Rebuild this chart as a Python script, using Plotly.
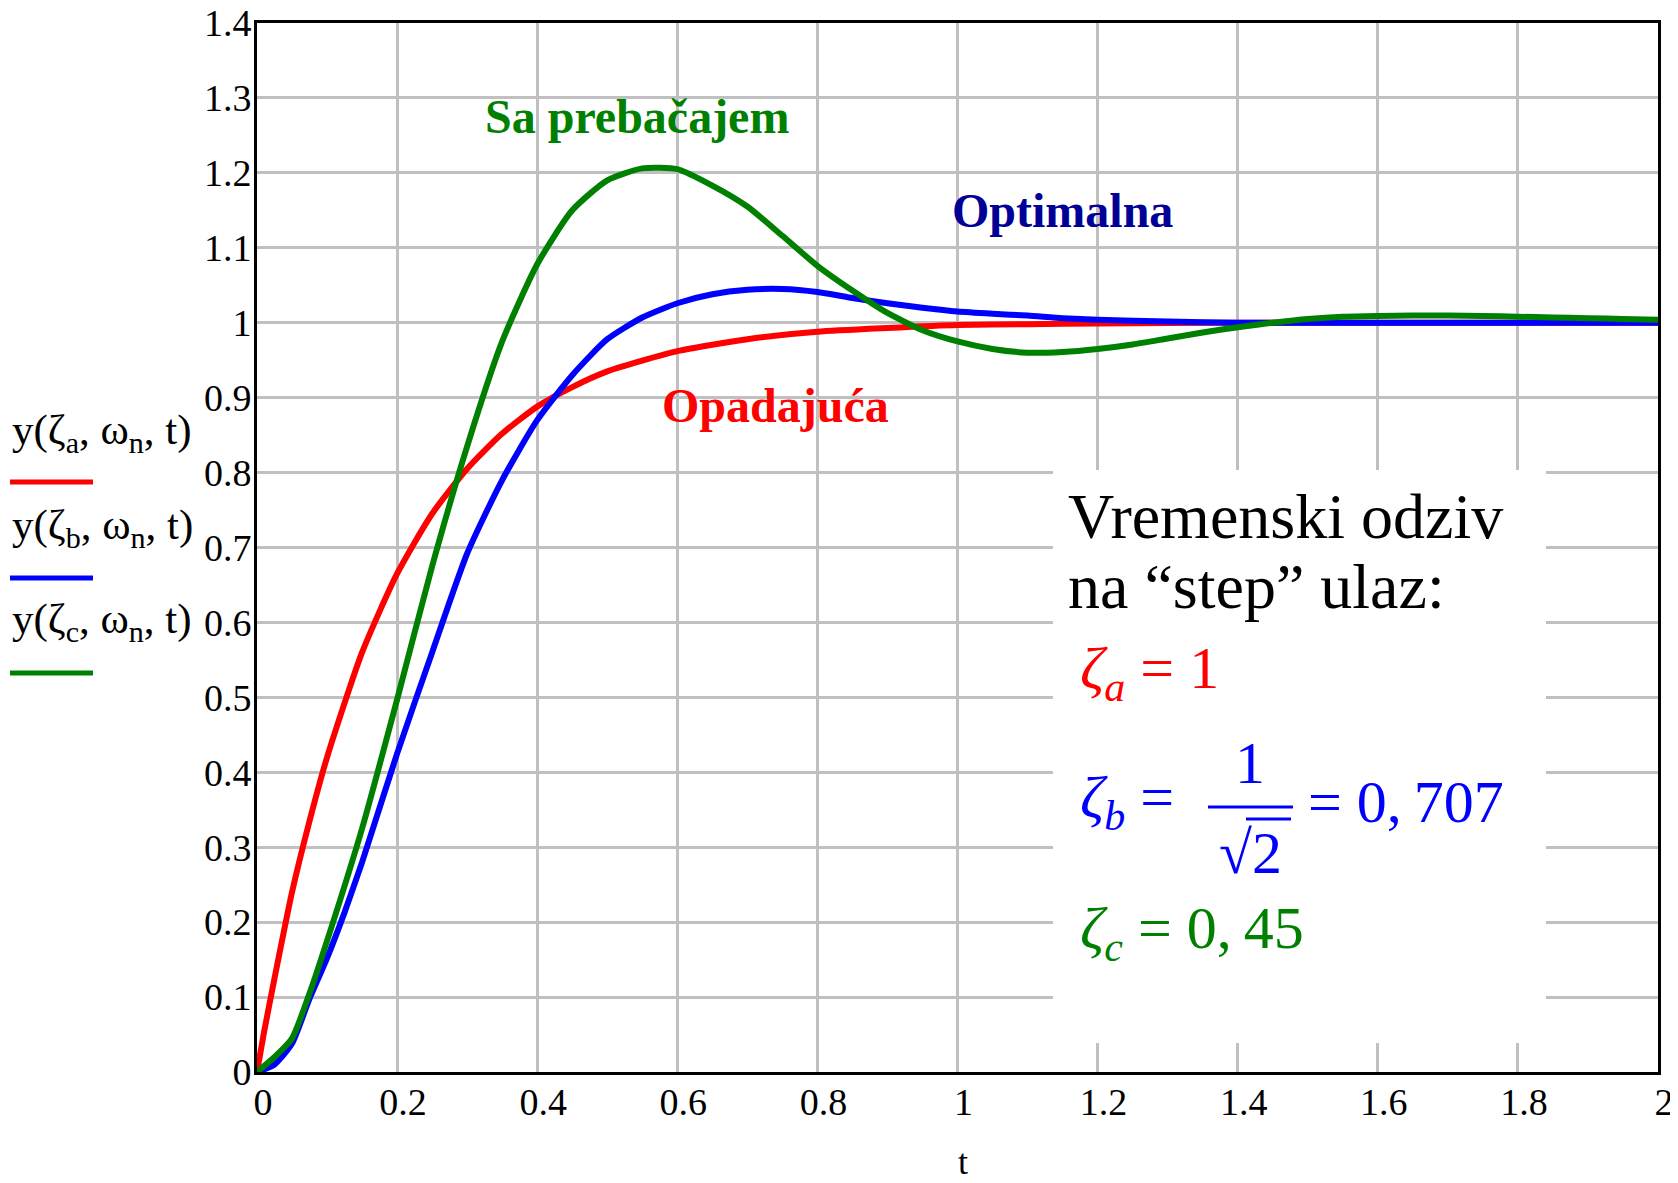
import plotly.graph_objects as go

# ---------------- data ----------------
t_a = [0, 0.01, 0.025, 0.05, 0.075, 0.1, 0.15, 0.2, 0.25, 0.3, 0.35, 0.4, 0.45,
       0.5, 0.6, 0.7, 0.8, 0.9, 1.0, 1.1, 1.2, 1.4, 1.6, 1.8, 2.0]
y_a = [0, 0.053, 0.125, 0.24, 0.335, 0.42, 0.56, 0.665, 0.745, 0.805, 0.852, 0.888, 0.914,
       0.935, 0.962, 0.978, 0.988, 0.993, 0.997, 0.998, 0.999, 1.0, 1.0, 1.0, 1.0]

t_b = [0, 0.025, 0.05, 0.075, 0.1, 0.125, 0.15, 0.2, 0.25, 0.3, 0.35, 0.4, 0.45,
       0.5, 0.55, 0.6, 0.65, 0.7, 0.75, 0.8, 0.85, 0.9, 0.95, 1.0, 1.05, 1.1, 1.15,
       1.2, 1.3, 1.4, 1.6, 1.8, 2.0]
y_b = [0, 0.01, 0.038, 0.098, 0.152, 0.213, 0.28, 0.425, 0.56, 0.692, 0.79, 0.87, 0.93,
       0.978, 1.007, 1.026, 1.038, 1.044, 1.045, 1.041, 1.033, 1.026, 1.02, 1.015, 1.012,
       1.0095, 1.006, 1.004, 1.0015, 1.0, 1.0, 1.0, 1.0]

t_c = [0, 0.025, 0.05, 0.075, 0.1, 0.15, 0.2, 0.25, 0.3, 0.35, 0.4, 0.45, 0.5, 0.55,
       0.6, 0.65, 0.7, 0.75, 0.8, 0.85, 0.9, 0.95, 1.0, 1.05, 1.1, 1.15, 1.2, 1.25,
       1.3, 1.35, 1.4, 1.45, 1.5, 1.55, 1.6, 1.65, 1.7, 1.75, 1.8, 1.85, 1.9, 1.95, 2.0]
y_c = [0, 0.02, 0.045, 0.105, 0.175, 0.325, 0.497, 0.675, 0.835, 0.975, 1.078, 1.15, 1.19,
       1.206, 1.205, 1.183, 1.155, 1.116, 1.076, 1.043, 1.013, 0.99, 0.975, 0.965, 0.96,
       0.961, 0.965, 0.971, 0.979, 0.987, 0.994, 1.0, 1.005, 1.008, 1.009, 1.0095, 1.0095,
       1.009, 1.008, 1.007, 1.006, 1.005, 1.004]

series_names = ["y(ζa, ωn, t)", "y(ζb, ωn, t)", "y(ζc, ωn, t)"]
x_tick_vals = [0, 0.2, 0.4, 0.6, 0.8, 1, 1.2, 1.4, 1.6, 1.8, 2]
y_tick_vals = [0, 0.1, 0.2, 0.3, 0.4, 0.5, 0.6, 0.7, 0.8, 0.9, 1, 1.1, 1.2, 1.3, 1.4]

RED, BLUE, GREEN, NAVY = "#FF0000", "#0000FF", "#008000", "#000096"
SERIF = "Liberation Serif, Times New Roman, serif"

# ---------------- layout geometry (window pixels) ----------------
# the page body adds an 8 px margin, so the figure is made 8 px smaller
OFF = 8
WIN_W, WIN_H = 1678, 1183
W_FIG, H_FIG = WIN_W - OFF, WIN_H - OFF
L, R, T, B = 257, 1658, 23, 1072   # plot area in window pixels


def px(x):
    return (x - L) / (R - L)


def py(y):
    return (B - y) / (B - T)


fig = go.Figure()
for tt, yy, col, nm in [(t_a, y_a, RED, series_names[0]),
                        (t_b, y_b, BLUE, series_names[1]),
                        (t_c, y_c, GREEN, series_names[2])]:
    fig.add_trace(go.Scatter(x=tt, y=yy, mode="lines", name=nm,
                             line=dict(color=col, width=6, shape="spline", smoothing=0.6),
                             showlegend=False))

axis_common = dict(showgrid=True, gridcolor="#C0C0C0", gridwidth=3,
                   showline=True, linecolor="black", linewidth=3, mirror=True,
                   zeroline=False, ticks="", automargin=False,
                   ticklabeloverflow="allow",
                   tickfont=dict(family=SERIF, size=38, color="black"))

fig.update_xaxes(range=[0, 2], tickvals=x_tick_vals, ticklabelstandoff=-6,
                 ticklabelshift=6, **axis_common)
fig.update_yaxes(range=[0, 1.4], tickvals=y_tick_vals, ticklabelstandoff=-5,
                 **axis_common)

shapes = []
annotations = []

# white box behind the explanatory text
shapes.append(dict(type="rect", xref="paper", yref="paper", layer="above",
                   x0=px(1053), x1=px(1546), y0=py(1043), y1=py(470),
                   fillcolor="white", line=dict(width=0)))


def ann(text, x, y, size, color="black", xanchor="left", yanchor="middle"):
    annotations.append(dict(text=text, x=px(x), y=py(y), xref="paper", yref="paper",
                            xanchor=xanchor, yanchor=yanchor, showarrow=False,
                            font=dict(family=SERIF, size=size, color=color)))


# curve labels
ann("<b>Sa prebačajem</b>", 637, 133 - 0.34 * 48, 48, GREEN, "center")
ann("<b>Optimalna</b>", 1062, 227 - 0.34 * 48, 48, NAVY, "center")
ann("<b>Opadajuća</b>", 775, 422 - 0.34 * 48, 48, RED, "center")

# left legend (Mathcad style)
leg_y = [433, 528, 622]
leg_line_y = [482, 578, 673]
subs = ["a", "b", "c"]
cols = [RED, BLUE, GREEN]
for s, yc, yl, c in zip(subs, leg_y, leg_line_y, cols):
    ann("y(ζ<sub>%s</sub>, ω<sub>n</sub>, t)" % s, 10, yc, 43, "black")
    shapes.append(dict(type="line", xref="paper", yref="paper",
                       x0=px(10), x1=px(93), y0=py(yl), y1=py(yl),
                       line=dict(color=c, width=5)))

# explanatory text
ann("Vremenski odziv", 1066, 538 - 0.34 * 64, 64)
ann("na “step” ulaz:", 1066, 608 - 0.34 * 64, 64)
ann("<i>ζ<sub>a</sub></i> = 1", 1078, 693 - 0.34 * 60, 60, RED)
ann("<i>ζ<sub>b</sub></i> =", 1078, 822 - 0.34 * 60, 60, BLUE)
ann("1", 1250, 783 - 0.34 * 60, 60, BLUE, "center")
shapes.append(dict(type="line", xref="paper", yref="paper",
                   x0=px(1208), x1=px(1293), y0=py(807), y1=py(807),
                   line=dict(color=BLUE, width=3)))
ann("√2", 1250, 873 - 0.34 * 60, 60, BLUE, "center")
shapes.append(dict(type="line", xref="paper", yref="paper",
                   x0=px(1246), x1=px(1291), y0=py(819), y1=py(819),
                   line=dict(color=BLUE, width=3)))
ann("= 0,\u2009707", 1306, 822 - 0.34 * 60, 60, BLUE)
ann("<i>ζ<sub>c</sub></i> = 0,\u200945", 1078, 953 - 0.34 * 60, 60, GREEN)

# x axis title
ann("t", 963, 1174 - 0.34 * 36, 36, "black", "center")

fig.update_layout(width=W_FIG, height=H_FIG,
                  margin=dict(l=L - OFF, r=W_FIG - (R - OFF), t=T - OFF,
                              b=H_FIG - (B - OFF)),
                  plot_bgcolor="white", paper_bgcolor="white",
                  shapes=shapes, annotations=annotations,
                  font=dict(family=SERIF))

fig.write_html("out.html")
